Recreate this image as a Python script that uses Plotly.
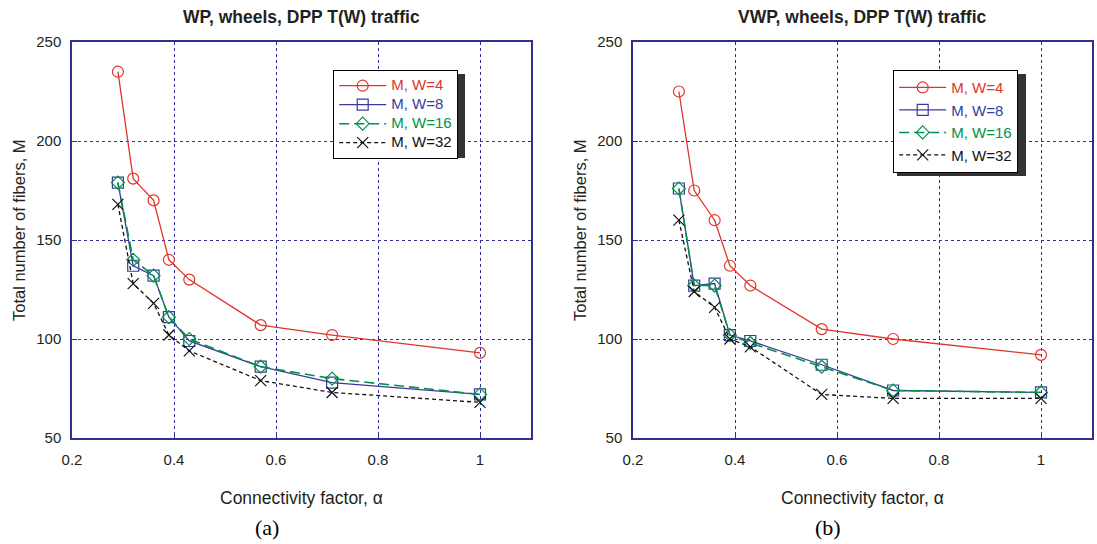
import plotly.graph_objects as go

W = 1097
H = 544

alpha = [0.29, 0.32, 0.36, 0.39, 0.43, 0.57, 0.71, 1.0]

# Panel (a): WP
a_w4 = [235, 181, 170, 140, 130, 107, 102, 93]
a_w8 = [179, 137, 132, 111, 99, 86, 78, 72]
a_w16 = [179, 140, 132, 111, 100, 86, 80, 72]
a_w32 = [168, 128, 118, 102, 94, 79, 73, 68]

# Panel (b): VWP
b_w4 = [225, 175, 160, 137, 127, 105, 100, 92]
b_w8 = [176, 127, 128, 102, 99, 87, 74, 73]
b_w16 = [176, 127, 127, 102, 98, 86, 74, 73]
b_w32 = [160, 124, 116, 100, 96, 72, 70, 70]

names = ["M, W=4", "M, W=8", "M, W=16", "M, W=32"]
titles = ["WP, wheels, DPP T(W) traffic", "VWP, wheels, DPP T(W) traffic"]
panel_labels = ["(a)", "(b)"]
xtitle = "Connectivity factor, α"
ytitle = "Total number of fibers, M"

RED = "#e0352b"
BLUE = "#3a3a9e"
GREEN = "#00924a"
BLACK = "#111111"
AXC = "#2e3192"
TXT = "#231f20"
FONT = "Liberation Sans, Arial"

styles = [
    dict(color=RED, dash="solid", symbol="circle-open", size=11, width=1.3),
    dict(color=BLUE, dash="solid", symbol="square-open", size=11, width=1.3),
    dict(color=GREEN, dash="10px,5px", symbol="diamond-open", size=10, width=1.6),
    dict(color=BLACK, dash="4px,3px", symbol="x-thin-open", size=11, width=1.3),
]

fig = go.Figure()


def px(x):
    return x / W


def py(y):
    return 1 - y / H


panels = [
    dict(x0=72, x1=531, series=[a_w4, a_w8, a_w16, a_w32], xa="x", ya="y", leg="legend"),
    dict(x0=633, x1=1092, series=[b_w4, b_w8, b_w16, b_w32], xa="x2", ya="y2", leg="legend2"),
]
top, bot = 42, 438

for pi, p in enumerate(panels):
    for si, ys in enumerate(p["series"]):
        st = styles[si]
        fig.add_trace(go.Scatter(
            x=alpha, y=ys, mode="lines+markers",
            name=f'<span style="color:{st["color"]};font-size:15px">{names[si]}</span>',
            line=dict(color=st["color"], dash=st["dash"], width=st["width"]),
            marker=dict(symbol=st["symbol"], size=st["size"], color=st["color"],
                        line=dict(color=st["color"], width=1.2)),
            xaxis=p["xa"], yaxis=p["ya"], legend=p["leg"], legendgroup=f"{pi}{si}",
        ))

axis_common = dict(
    showline=True, mirror=True, linecolor=AXC, linewidth=1.5,
    showgrid=True, gridcolor=AXC, griddash="dot", gridwidth=1,
    zeroline=False, ticks="inside", ticklen=5, tickcolor=AXC,
    automargin=False,
    tickfont=dict(family=FONT, size=15, color=TXT),
)

for pi, p in enumerate(panels):
    sfx = "" if pi == 0 else "2"
    fig.update_layout(**{
        f"xaxis{sfx}": dict(axis_common, domain=[px(p["x0"]), px(p["x1"])],
                            range=[0.2, 1.1], dtick=0.2, tick0=0.2,
                            anchor=f"y{sfx}", ticklabelstandoff=7),
        f"yaxis{sfx}": dict(axis_common, domain=[py(bot), py(top)],
                            range=[50, 250], dtick=50, tick0=50,
                            anchor=f"x{sfx}", ticklabelstandoff=6),
    })
    cx = (p["x0"] + p["x1"]) / 2
    common = dict(xref="paper", yref="paper", showarrow=False,
                  xanchor="center", yanchor="middle")
    fig.add_annotation(x=px(cx), y=py(17), text=f"<b>{titles[pi]}</b>",
                       font=dict(family=FONT, size=17.5, color=TXT), **common)
    fig.add_annotation(x=px(cx), y=py(498), text=xtitle,
                       font=dict(family=FONT, size=17.5, color=TXT), **common)
    fig.add_annotation(x=px(cx - 35), y=py(527), text=panel_labels[pi],
                       font=dict(family="Liberation Serif, Times New Roman", size=22, color="#000"),
                       **common)
    fig.add_annotation(x=px(p["x0"] - 53), y=py(230), text=ytitle,
                       textangle=-90, font=dict(family=FONT, size=16.5, color=TXT), **common)

leg_common = dict(bgcolor="white", bordercolor="#000", borderwidth=1.2,
                  xanchor="left", yanchor="top", itemwidth=47, tracegroupgap=0)
fig.update_layout(
    legend=dict(leg_common, x=px(333), y=py(70),
                font=dict(family=FONT, size=11.5, color=TXT)),
    legend2=dict(leg_common, x=px(893), y=py(70),
                 font=dict(family=FONT, size=15, color=TXT)),
)

# legend shadows
for (lx0, ly0, lx1, ly1) in [(333, 70, 461, 154), (893, 70, 1022, 172)]:
    fig.add_shape(type="rect", xref="paper", yref="paper",
                  x0=px(lx0 + 4), x1=px(lx1 + 4), y0=py(ly0 + 4), y1=py(ly1 + 4),
                  fillcolor="#333333", line=dict(width=0), layer="above")

fig.update_layout(
    width=W, height=H, margin=dict(l=0, r=0, t=0, b=0, autoexpand=False),
    paper_bgcolor="white", plot_bgcolor="white", showlegend=True,
)

fig.write_html("out.html")
